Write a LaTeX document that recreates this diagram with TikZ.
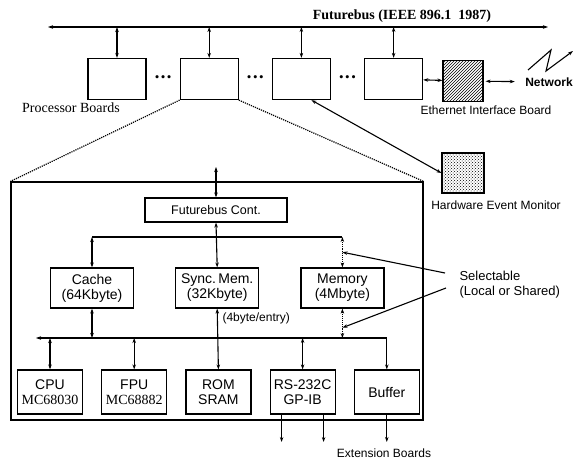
\documentclass[tikz,border=0pt]{standalone}
\usepackage{fontspec}
\setmainfont{Liberation Serif}
\setsansfont{Liberation Sans}
\usepackage{tikz}
\usetikzlibrary{arrows.meta, positioning, patterns, calc}

\begin{document}
\begin{tikzpicture}[x=1pt, y=-1pt, line width=1.1pt,
    board/.style={rectangle, draw, line width=1.2pt, minimum width=58pt, minimum height=41pt, inner sep=0pt},
    unit/.style={rectangle, draw, line width=1.2pt, minimum width=83pt, minimum height=40pt, align=center, inner sep=1pt, font=\sffamily\fontsize{14}{15}\selectfont},
    dev/.style={unit, minimum width=65pt, minimum height=44pt},
    lbl/.style={inner sep=0pt, font=\sffamily\fontsize{12}{14}\selectfont},
    dots/.style={inner sep=0pt, font=\fontsize{13}{13}\selectfont},
    link/.style={{Stealth[length=5pt,width=3.5pt]}-{Stealth[length=5pt,width=3.5pt]}},
    arrow/.style={-{Stealth[length=5pt,width=3.5pt]}}]

    \useasboundingbox (0,0) rectangle (578,461);

    % Futurebus and the boards on it
    \coordinate (busL) at (48,27);
    \coordinate (busR) at (548,27);
    \draw[link] (busL) -- (busR);
    \node[inner sep=0pt, font=\bfseries\fontsize{14}{16}\selectfont] (bustitle) at (402,16) {Futurebus (IEEE 896.1~~1987)};

    \node[board] (b1) at (117,79) {};
    \node[board, right=33pt of b1] (b2) {};
    \node[board, right=33pt of b2] (b3) {};
    \node[board, right=33pt of b3] (b4) {};
    \node[dots] (dots1) at ($(b1.east)!0.5!(b2.west)$) {\textbullet\hspace{1.5pt}\textbullet\hspace{1.5pt}\textbullet};
    \node[dots] (dots2) at ($(b2.east)!0.5!(b3.west)$) {\textbullet\hspace{1.5pt}\textbullet\hspace{1.5pt}\textbullet};
    \node[dots] (dots3) at ($(b3.east)!0.5!(b4.west)$) {\textbullet\hspace{1.5pt}\textbullet\hspace{1.5pt}\textbullet};

    \draw[link] (b1.north |- busL) -- (b1.north);
    \draw[link] (b2.north |- busL) -- (b2.north);
    \draw[link] (b3.north |- busL) -- (b3.north);
    \draw[link] (b4.north |- busL) -- (b4.north);

    \node[inner sep=0pt, font=\fontsize{14}{16}\selectfont] (proclbl) at (71,108) {Processor Boards};

    % Ethernet and network
    \node[board, minimum width=40pt, pattern=north east lines] (eth) at (463,81) {};
    \node[lbl] (ethlbl) at (486,110) {Ethernet Interface Board};
    \node[inner sep=0pt, font=\sffamily\bfseries\fontsize{12}{14}\selectfont] (net) at (549,82) {Network};
    \draw[link] (b4) -- (eth);
    \draw[link, shorten <=2pt, shorten >=10pt] (eth) -- (net);
    \draw[arrow] (528,70) -- (551,50) -- (546,71) -- (573,51);

    % Hardware event monitor
    \node[board, minimum width=42pt, minimum height=40pt, pattern=crosshatch dots] (hem) at (463,173) {};
    \node[lbl] (hemlbl) at (496,205) {Hardware Event Monitor};
    \draw[link] ([xshift=10pt]b3.south) -- (hem.west);

    % one processor board in detail
    \node[rectangle, draw, line width=1.2pt, minimum width=412pt, minimum height=238pt] (sys) at (217,301) {};
    \draw[densely dotted, line width=1.2pt] (b2.south west) -- (sys.north west);
    \draw[densely dotted, line width=1.2pt] (b2.south east) -- (sys.north east);

    \node[unit, minimum width=142pt, minimum height=24pt, font=\sffamily\fontsize{12.5}{14}\selectfont] (fbc) at (216,210) {Futurebus Cont.};
    \coordinate (fbtop) at (216,167);
    \draw[link] (fbtop) -- (fbc.north);

    \node[unit] (cache) at (92,288) {Cache\\(64Kbyte)};
    \node[unit, right=41pt of cache] (sync) {Sync.\,Mem.\\(32Kbyte)};
    \node[unit, right=41pt of sync] (mem) {Memory\\(4Mbyte)};

    \coordinate (ubus) at (0,237);
    \draw (cache.north |- ubus) -- (mem.north |- ubus);
    \draw[link] (cache.north |- ubus) -- (cache.north);
    \draw[link] (fbc.south) -- (sync.north);
    \draw[link, densely dotted] (mem.north |- ubus) -- (mem.north);

    \node[dev] (cpu) at (50,392) {CPU\\{\rmfamily MC68030}};
    \node[dev, right=18pt of cpu] (fpu) {FPU\\{\rmfamily MC68882}};
    \node[dev, right=18pt of fpu] (rom) {ROM\\SRAM};
    \node[dev, right=18pt of rom] (rs) {RS-232C\\GP-IB};
    \node[dev, right=18pt of rs] (buf) {Buffer};

    \coordinate (lbus) at (0,338);
    \coordinate (lend) at (36,338);
    \draw[arrow] (buf.north |- lbus) -- (lend);
    \draw[arrow] (buf.north |- lbus) -- (buf.north);
    \draw[link] (cache.south) -- (cache.south |- lbus);
    \draw[link, densely dotted] (mem.south) -- (mem.south |- lbus);
    \draw[link] (sync.south) -- (rom.north);
    \draw[link] (cpu.north |- lbus) -- (cpu.north);
    \draw[link] (fpu.north |- lbus) -- (fpu.north);
    \draw[link] (rs.north |- lbus) -- (rs.north);

    \node[lbl, anchor=west] (entry) at (222,318) {(4byte/entry)};

    % selectable memory paths
    \node[inner sep=0pt, anchor=west, align=left, font=\sffamily\fontsize{13}{15}\selectfont] (sel) at (459,285) {Selectable\\(Local or Shared)};
    \draw[arrow] ([xshift=-14pt, yshift=12pt]sel.west) -- ($(mem.north |- ubus)!0.5!(mem.north)$);
    \draw[arrow] ([xshift=-13pt, yshift=-3pt]sel.west) -- ($(mem.south)!0.65!(mem.south |- lbus)$);

    % extension boards
    \coordinate (ext) at (0,442);
    \draw[arrow] ([xshift=-21pt]rs.south) -- ([xshift=-21pt]rs.south |- ext);
    \draw[arrow] ([xshift=21pt]rs.south) -- ([xshift=21pt]rs.south |- ext);
    \draw[arrow] (buf.south) -- (buf.south |- ext);
    \node[lbl] (extlbl) at (384,453) {Extension Boards};

\end{tikzpicture}
\end{document}
